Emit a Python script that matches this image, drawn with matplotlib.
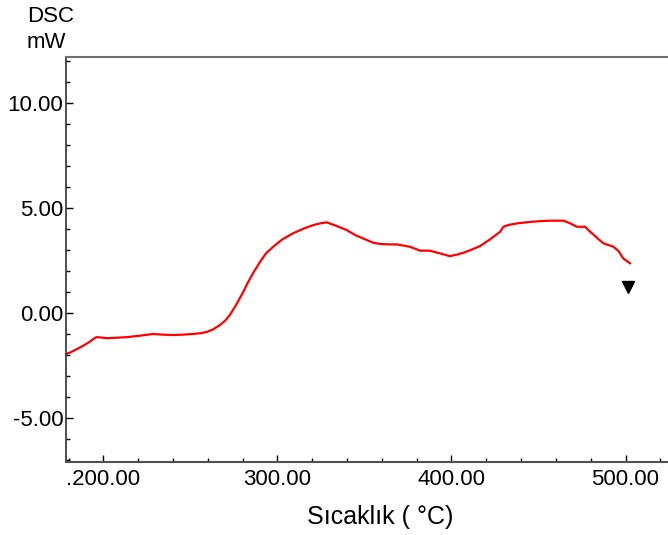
import matplotlib
matplotlib.use('Agg')
import matplotlib.pyplot as plt
from matplotlib.ticker import MultipleLocator, FixedLocator, FixedFormatter

plt.rcParams['font.family'] = ['Liberation Sans', 'DejaVu Sans']

# DSC egrisi (okunan degerler)
SICAKLIK = [178.5, 181, 184, 187.5, 190, 192, 194, 196, 199, 202, 207, 213.5,
            221, 228.5, 234, 240, 246, 251.5, 256, 259.5, 263, 267, 270,
            272.6, 276, 280, 283, 286, 290, 293.5, 297.6, 303, 309, 315,
            320.6, 325, 328.3, 333, 339.8, 345, 351.3, 355, 359, 364, 368.5,
            372, 376, 382, 387.6, 393, 399, 403, 406.8, 411, 416.4, 422,
            427.9, 429.8, 433, 437.5, 444, 450.9, 457, 464.3, 468, 472,
            476.7, 480, 484, 487.3, 493, 496, 498.7, 502.6]
DSC = [-1.95, -1.88, -1.75, -1.6, -1.48, -1.38, -1.25, -1.15, -1.17, -1.2,
       -1.18, -1.15, -1.08, -1.0, -1.03, -1.05, -1.03, -1.0, -0.96, -0.9,
       -0.78, -0.57, -0.36, -0.1, 0.35, 0.95, 1.45, 1.9, 2.44, 2.85, 3.16,
       3.52, 3.8, 4.02, 4.19, 4.28, 4.32, 4.18, 3.95, 3.7, 3.48, 3.35, 3.29,
       3.27, 3.27, 3.22, 3.16, 2.97, 2.97, 2.85, 2.71, 2.78, 2.87, 3.0,
       3.19, 3.5, 3.87, 4.11, 4.2, 4.27, 4.33, 4.38, 4.40, 4.40, 4.28,
       4.11, 4.11, 3.85, 3.55, 3.32, 3.16, 2.95, 2.60, 2.37]

# isaretci
ISARET_T = [501.6]
ISARET_V = [1.24]

XTICKS = [200, 300, 400, 500]
XTICK_LABELS = ['.200.00', '300.00', '400.00', '500.00']
YTICKS = [-5, 0, 5, 10]
YTICK_LABELS = ['-5.00', '0.00', '5.00', '10.00']

fig = plt.figure(figsize=(6.68, 5.35), dpi=100)
ax = fig.add_axes([66/668, 1-462/535, 1-66/668, (462-57)/535])

ax.plot(SICAKLIK, DSC, color='red', linewidth=1.6)
ax.plot(ISARET_T, ISARET_V, marker='v', color='black', markersize=8, linestyle='none')

ax.set_xlim(178.5, 524.4)
ax.set_ylim(-7.1, 12.2)

ax.xaxis.set_major_locator(FixedLocator(XTICKS))
ax.xaxis.set_major_formatter(FixedFormatter(XTICK_LABELS))
ax.xaxis.set_minor_locator(MultipleLocator(20))
ax.yaxis.set_major_locator(FixedLocator(YTICKS))
ax.yaxis.set_major_formatter(FixedFormatter(YTICK_LABELS))
ax.yaxis.set_minor_locator(MultipleLocator(1))

ax.tick_params(axis='both', which='major', direction='in', length=5, width=1,
               labelsize=16)
ax.tick_params(axis='both', which='minor', direction='in', length=3, width=1)
ax.tick_params(axis='y', which='major', pad=2)
ax.tick_params(axis='x', which='major', pad=5)

ax.spines['right'].set_visible(False)
ax.spines['top'].set_color('#707070')
ax.spines['top'].set_linewidth(1.5)
ax.spines['bottom'].set_color('#505050')
ax.spines['bottom'].set_linewidth(1.5)
ax.spines['left'].set_color('#303030')
ax.spines['left'].set_linewidth(1.2)

fig.text(27/668, 1-17/535, 'DSC', fontsize=16, va='center', ha='left')
fig.text(27/668, 1-43/535, 'mW', fontsize=16, va='center', ha='left')
fig.text(380/668, 1-517/535, 'Sıcaklık ( °C)', fontsize=18, va='center', ha='center')

fig.savefig('out.png', dpi=100)
